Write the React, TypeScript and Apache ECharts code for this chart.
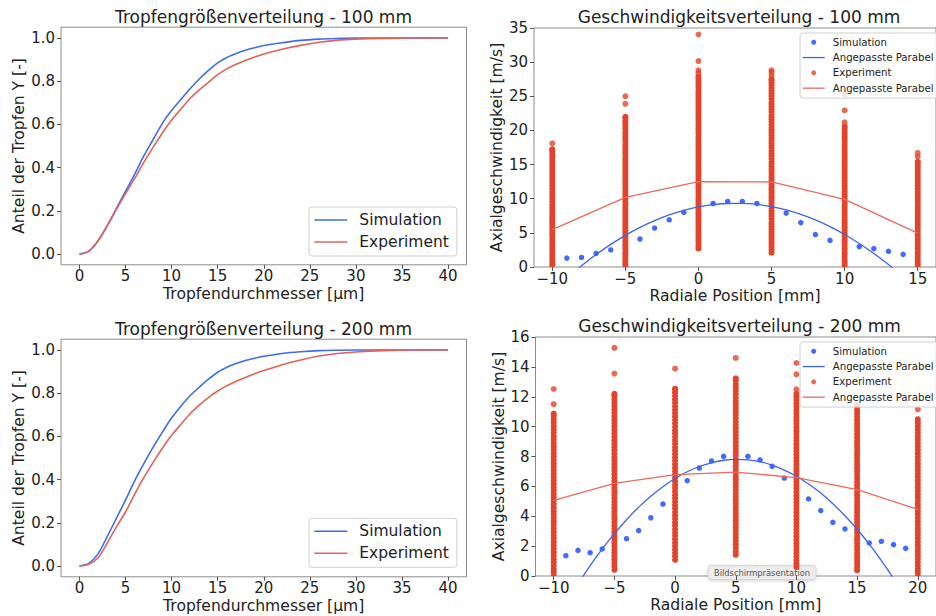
import React, { useEffect, useRef } from "react";
import * as echarts from "echarts";

const FONT = "'DejaVu Sans', 'Liberation Sans', sans-serif";
const INK = "#222222";
const FRAME = "#8c8c8c";
const SIM_LINE = "#3f6cf2";
const EXP_LINE = "#e2625a";
const SIM_PT = "#1446f5";
const EXP_PT = "#e2432a";
const SIM_FIT = "#3a63ee";
const EXP_FIT = "#ea6a5f";

// --- Tropfengrößenverteilung (kumulativer Anteil) ---
const diameterUm = [0, 1, 2, 3, 4, 5, 6, 7, 8, 9, 10, 11, 12, 13, 14, 15, 16, 17, 18, 19, 20, 22, 24, 26, 28, 30, 33, 36, 40];
const cumSim100 = [0, 0.012, 0.06, 0.13, 0.21, 0.29, 0.37, 0.455, 0.53, 0.605, 0.665, 0.715, 0.765, 0.81, 0.85, 0.885, 0.91, 0.928, 0.943, 0.955, 0.965, 0.978, 0.989, 0.995, 0.998, 1.0, 1.0, 1.0, 1.0];
const cumExp100 = [0, 0.012, 0.06, 0.13, 0.205, 0.28, 0.35, 0.425, 0.495, 0.56, 0.62, 0.67, 0.72, 0.76, 0.795, 0.83, 0.857, 0.878, 0.896, 0.912, 0.926, 0.948, 0.966, 0.98, 0.99, 0.995, 0.998, 1.0, 1.0];
const cumSim200 = [0, 0.012, 0.055, 0.135, 0.22, 0.305, 0.395, 0.475, 0.55, 0.62, 0.685, 0.74, 0.788, 0.828, 0.865, 0.897, 0.92, 0.937, 0.951, 0.962, 0.971, 0.984, 0.992, 0.997, 0.999, 1.0, 1.0, 1.0, 1.0];
const cumExp200 = [0, 0.008, 0.037, 0.105, 0.18, 0.25, 0.333, 0.41, 0.48, 0.545, 0.605, 0.655, 0.705, 0.745, 0.78, 0.81, 0.835, 0.855, 0.873, 0.89, 0.905, 0.932, 0.954, 0.972, 0.984, 0.991, 0.997, 1.0, 1.0];
const diameterTicks = [0, 5, 10, 15, 20, 25, 30, 35, 40];
const shareTicks = [0, 0.2, 0.4, 0.6, 0.8, 1.0];

// --- Geschwindigkeitsverteilung 100 mm ---
const simPos100 = [-9, -8, -7, -6, -4, -3, -2, -1, 1, 2, 3, 4, 6, 7, 8, 9, 11, 12, 13, 14];
const simVel100 = [1.3, 1.4, 2.0, 2.5, 4.1, 5.7, 6.9, 8.0, 9.3, 9.6, 9.6, 9.3, 7.9, 6.5, 4.75, 3.9, 3.0, 2.7, 2.3, 1.85];
const fitPos100 = [-9, -8, -7, -6, -5, -4, -3, -2, -1, 0, 1, 2, 3, 4, 5, 6, 7, 8, 9, 10, 11, 12, 13, 14];
const simFit100 = [-1.65, 0.17, 1.83, 3.31, 4.64, 5.8, 6.79, 7.63, 8.29, 8.8, 9.13, 9.3, 9.31, 9.16, 8.84, 8.35, 7.7, 6.89, 5.91, 4.76, 3.45, 1.98, 0.35, -1.45];
const expPos100 = [-10, -5, 0, 5, 10, 15];
const expFit100 = [5.48, 10.2, 12.5, 12.45, 9.9, 4.95];
const expMin100 = [0, 0, 2.7, 2.1, 0, 0];
const expMax100 = [17.2, 22.0, 27.9, 27.5, 20.6, 15.4];
const expOutPos100 = [-10, -5, -5, 0, 0, 0, 0, 5, 5, 5, 10, 10, 10, 15, 15];
const expOutVel100 = [18.1, 23.9, 25.0, 28.4, 28.8, 30.15, 34.05, 28.0, 28.5, 28.8, 21.2, 22.95, 25.3, 16.15, 16.7];
const posTicks100 = [-10, -5, 0, 5, 10, 15];

// --- Geschwindigkeitsverteilung 200 mm ---
const simPos200 = [-9, -8, -7, -6, -4, -3, -2, -1, 1, 2, 3, 4, 6, 7, 8, 9, 11, 12, 13, 14, 16, 17, 18, 19];
const simVel200 = [1.36, 1.72, 1.56, 1.81, 2.5, 3.04, 3.9, 4.82, 6.38, 7.23, 7.7, 8.01, 8.01, 7.77, 7.34, 6.56, 5.16, 4.38, 3.59, 3.15, 2.21, 2.32, 2.1, 1.85];
const fitPos200 = [-9, -8, -7, -6, -5, -4, -3, -2, -1, 0, 1, 2, 3, 4, 5, 6, 7, 8, 9, 10, 11, 12, 13, 14, 15, 16, 17, 18, 19];
const simFit200 = [-1.85, -0.54, 0.69, 1.81, 2.84, 3.77, 4.61, 5.34, 5.98, 6.53, 6.98, 7.33, 7.58, 7.75, 7.81, 7.78, 7.65, 7.42, 7.09, 6.68, 6.16, 5.55, 4.84, 4.03, 3.13, 2.13, 1.03, -0.16, -1.45];
const expPos200 = [-10, -5, 0, 5, 10, 15, 20];
const expFit200 = [5.07, 6.2, 6.79, 6.96, 6.58, 5.78, 4.46];
const expMin200 = [0, 0.42, 1.09, 1.43, 0.6, 0.38, 0];
const expMax200 = [10.87, 12.2, 12.54, 13.24, 12.2, 11.45, 10.5];
const expOutPos200 = [-10, -10, -5, -5, 0, 5, 10, 10, 10, 20];
const expOutVel200 = [11.5, 12.52, 13.55, 15.27, 13.88, 14.6, 12.5, 13.5, 14.26, 11.16];
const posTicks200 = [-10, -5, 0, 5, 10, 15, 20];

const zip = (xs: number[], ys: number[]) => xs.map((x, i) => [x, ys[i]]);
const minusLabel = (v: number) => (v < 0 ? "\u2212" + Math.abs(v) : String(v));

const legendText: Record<string, string> = {
  "Simulation": "Simulation",
  "Experiment": "Experiment",
  "Simulation (Punkte)": "Simulation",
  "Parabel (Simulation)": "Angepasste Parabel",
  "Experiment (Punkte)": "Experiment",
  "Parabel (Experiment)": "Angepasste Parabel",
};

const lineIcon = (w: number, h: number) => `path://M0,0H${w}V${h}H0Z`;

// dense stack of measured droplets at one radial position, drawn as a beaded column
const columnItem = (spacing: number) => (_params: any, api: any) => {
  const x = api.value(0);
  const a = api.coord([x, api.value(1)]);
  const b = api.coord([x, api.value(2)]);
  return {
    type: "group",
    children: [
      {
        type: "line",
        shape: { x1: a[0], y1: a[1], x2: b[0], y2: b[1] },
        style: { stroke: EXP_PT, lineWidth: 6, lineCap: "round", lineDash: [0.01, spacing], fill: null },
      },
      { type: "circle", shape: { cx: b[0], cy: b[1], r: 3 }, style: { fill: EXP_PT } },
    ],
  };
};

const xAxisOf = (gridIndex: number, min: number, max: number, ticks: number[], name: string, nameGap: number, fmt?: (v: number) => string) => ({
  type: "value",
  gridIndex,
  min,
  max,
  name,
  nameLocation: "middle",
  nameGap,
  nameTextStyle: { fontSize: 15.6, color: INK, fontFamily: FONT },
  axisLine: { show: false, onZero: false },
  splitLine: { show: false },
  axisTick: { show: true, length: 4, customValues: ticks, lineStyle: { color: "#555", width: 1 } },
  axisLabel: { fontSize: 15, color: INK, fontFamily: FONT, margin: 4, customValues: ticks, formatter: fmt || ((v: number) => String(v)) },
});

const yAxisOf = (gridIndex: number, min: number, max: number, ticks: number[] | null, interval: number | null, name: string, nameGap: number, fmt: (v: number) => string) => ({
  type: "value",
  gridIndex,
  min,
  max,
  ...(interval ? { interval } : {}),
  name,
  nameLocation: "middle",
  nameGap,
  nameTextStyle: { fontSize: 15.6, color: INK, fontFamily: FONT },
  axisLine: { show: false, onZero: false },
  splitLine: { show: false },
  axisTick: { show: true, length: 4, ...(ticks ? { customValues: ticks } : {}), lineStyle: { color: "#555", width: 1 } },
  axisLabel: { fontSize: 15, color: INK, fontFamily: FONT, margin: 6, ...(ticks ? { customValues: ticks } : {}), formatter: fmt },
});

const legendBase = {
  orient: "vertical",
  selectedMode: false,
  backgroundColor: "rgba(255,255,255,0.8)",
  borderColor: "#d0d0d0",
  borderWidth: 1,
  borderRadius: 3,
  z: 10,
  itemStyle: { borderWidth: 0 },
  formatter: (n: string) => legendText[n] ?? n,
};

const leftLegend = (top: number) => ({
  ...legendBase,
  left: 309,
  top,
  itemWidth: 33,
  itemHeight: 5,
  itemGap: 4,
  padding: [4, 8, 5, 5.3],
  textStyle: { fontSize: 15.5, color: INK, fontFamily: FONT, lineHeight: 18, padding: [0, 0, 0, 7] },
  data: [
    { name: "Simulation", icon: lineIcon(33, 1.6) },
    { name: "Experiment", icon: lineIcon(33, 1.6) },
  ],
});

const rightLegend = (top: number) => ({
  ...legendBase,
  left: 800,
  top,
  itemWidth: 22,
  itemHeight: 5,
  itemGap: 2.8,
  padding: [3, 6, 3.7, 2.7],
  textStyle: { fontSize: 10.2, color: INK, fontFamily: FONT, lineHeight: 12.5, padding: [0, 0, 0, 3] },
  data: [
    { name: "Simulation (Punkte)", icon: "circle" },
    { name: "Parabel (Simulation)", icon: lineIcon(22, 1.3) },
    { name: "Experiment (Punkte)", icon: "circle" },
    { name: "Parabel (Experiment)", icon: lineIcon(22, 1.3) },
  ],
});

const cdfLine = (name: string, idx: number, ys: number[], color: string) => ({
  name,
  type: "line",
  xAxisIndex: idx,
  yAxisIndex: idx,
  data: zip(diameterUm, ys),
  smooth: 0.3,
  symbol: "none",
  color,
  lineStyle: { color, width: 1.6, join: "round" },
});

const velocitySeries = (
  idx: number,
  sx: number[], sv: number[],
  fx: number[], fv: number[],
  ex: number[], emin: number[], emax: number[],
  ox: number[], ov: number[],
  efit: number[], spacing: number
) => [
  { name: "Simulation (Punkte)", type: "scatter", xAxisIndex: idx, yAxisIndex: idx, data: zip(sx, sv), symbol: "circle", symbolSize: 5.5, color: SIM_PT, itemStyle: { color: SIM_PT } },
  { name: "Parabel (Simulation)", type: "line", xAxisIndex: idx, yAxisIndex: idx, data: zip(fx, fv), smooth: 0.35, symbol: "none", clip: true, color: SIM_FIT, lineStyle: { color: SIM_FIT, width: 1.3 } },
  { name: "Experiment (Punkte)", type: "scatter", xAxisIndex: idx, yAxisIndex: idx, data: zip(ox, ov), symbol: "circle", symbolSize: 6, color: EXP_PT, itemStyle: { color: EXP_PT } },
  {
    name: "Experiment Säulen",
    type: "custom",
    xAxisIndex: idx,
    yAxisIndex: idx,
    clip: true,
    data: ex.map((x, i) => [x, emin[i], emax[i]]),
    encode: { x: 0, y: [1, 2] },
    renderItem: columnItem(spacing),
  },
  { name: "Parabel (Experiment)", type: "line", xAxisIndex: idx, yAxisIndex: idx, data: zip(ex, efit), symbol: "none", color: EXP_FIT, lineStyle: { color: EXP_FIT, width: 1.3 } },
];

const titleText = (text: string, x: number, y: number) => ({
  type: "text",
  x,
  y,
  silent: true,
  style: { text, fontSize: 17, fontFamily: FONT, fill: INK, align: "center", verticalAlign: "middle" },
});

export default function App() {
  const ref = useRef<HTMLDivElement | null>(null);

  useEffect(() => {
    if (!ref.current) return;
    const chart = echarts.init(ref.current, null, { renderer: "svg" });

    const grids = [
      { left: 61, top: 27.2, width: 405.5, height: 237.6 },
      { left: 534, top: 28, width: 409.5, height: 239 },
      { left: 61, top: 339.2, width: 405.5, height: 237.6 },
      { left: 535.5, top: 337, width: 408, height: 239 },
    ].map((g) => ({ ...g, show: true, borderColor: FRAME, borderWidth: 1, backgroundColor: "transparent", containLabel: false }));

    const fix1 = (v: number) => v.toFixed(1);

    chart.setOption({
      animation: false,
      backgroundColor: "#ffffff",
      textStyle: { fontFamily: FONT },
      grid: grids,
      xAxis: [
        xAxisOf(0, -2, 42, diameterTicks, "Tropfendurchmesser [µm]", 20.7),
        xAxisOf(1, -11.25, 16.25, posTicks100, "Radiale Position [mm]", 20.5, minusLabel),
        xAxisOf(2, -2, 42, diameterTicks, "Tropfendurchmesser [µm]", 20.7),
        xAxisOf(3, -11.5, 21.5, posTicks200, "Radiale Position [mm]", 21.4, minusLabel),
      ],
      yAxis: [
        yAxisOf(0, -0.05, 1.05, shareTicks, null, "Anteil der Tropfen Y [-]", 34, fix1),
        yAxisOf(1, 0, 35, null, 5, "Axialgeschwindigkeit [m/s]", 29, (v) => String(v)),
        yAxisOf(2, -0.05, 1.05, shareTicks, null, "Anteil der Tropfen Y [-]", 34, fix1),
        yAxisOf(3, 0, 16, null, 2, "Axialgeschwindigkeit [m/s]", 29, (v) => String(v)),
      ],
      legend: [leftLegend(207), rightLegend(33), leftLegend(518.3), rightLegend(342)],
      series: [
        cdfLine("Simulation", 0, cumSim100, SIM_LINE),
        cdfLine("Experiment", 0, cumExp100, EXP_LINE),
        cdfLine("Simulation", 2, cumSim200, SIM_LINE),
        cdfLine("Experiment", 2, cumExp200, EXP_LINE),
        ...velocitySeries(1, simPos100, simVel100, fitPos100, simFit100, expPos100, expMin100, expMax100, expOutPos100, expOutVel100, expFit100, 2.6),
        ...velocitySeries(3, simPos200, simVel200, fitPos200, simFit200, expPos200, expMin200, expMax200, expOutPos200, expOutVel200, expFit200, 3.4),
      ],
      graphic: [
        titleText("Tropfengrößenverteilung - 100 mm", 263.5, 17.2),
        titleText("Geschwindigkeitsverteilung - 100 mm", 739, 16.5),
        titleText("Tropfengrößenverteilung - 200 mm", 263.5, 328.8),
        titleText("Geschwindigkeitsverteilung - 200 mm", 739.5, 325.8),
        {
          type: "group",
          z: 100,
          children: [
            {
              type: "rect",
              shape: { x: 708, y: 565.5, width: 108, height: 14, r: 3 },
              style: { fill: "#ececec", stroke: "#d6d6d6", lineWidth: 1, shadowBlur: 3, shadowColor: "rgba(0,0,0,0.18)", shadowOffsetY: 1 },
            },
            {
              type: "text",
              x: 762,
              y: 572.5,
              style: { text: "Bildschirmpräsentation", fontSize: 8.3, fontFamily: FONT, fill: "#555555", align: "center", verticalAlign: "middle" },
            },
          ],
        },
      ],
    });

    return () => chart.dispose();
  }, []);

  return <div ref={ref} style={{ position: "fixed", left: 0, top: 0, width: 936, height: 616 }} />;
}
